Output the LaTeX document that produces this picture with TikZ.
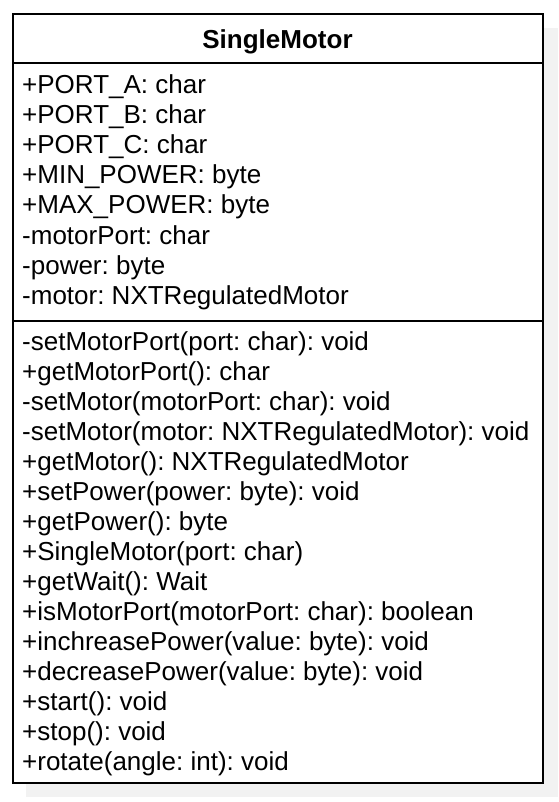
\documentclass[tikz,border=0pt]{standalone}
\usepackage{fontspec}
\setmainfont{Liberation Sans}
\frenchspacing
\begin{document}
\begin{tikzpicture}[x=1pt,y=-1pt,
  row/.style={anchor=base west,inner sep=0pt,font=\fontsize{26}{30}\selectfont},
  title/.style={anchor=base,inner sep=0pt,font=\fontsize{26}{30}\selectfont\bfseries},
  frame/.style={draw=black,line width=2pt}]
\useasboundingbox (0,0) rectangle (558,802);
\fill[black!5] (26,28) rectangle (558,797);
\draw[frame,fill=white] (12.5,14) rectangle (543,783);
\draw[frame] (12.5,63.5) -- (543,63.5);
\draw[frame] (12.5,320.5) -- (543,320.5);
\node[title] (t) at (277.5,49) {SingleMotor};
\foreach \n/\txt [count=\i from 0] in {a1/{+PORT\_A: char},a2/{+PORT\_B: char},a3/{+PORT\_C: char},a4/{+MIN\_POWER: byte},a5/{+MAX\_POWER: byte},a6/{-motorPort: char},a7/{-power: byte},a8/{-motor: NXTRegulatedMotor}}
  \node[row] (\n) at (22,94+30*\i) {\txt};
\foreach \n/\txt [count=\i from 0] in {m1/{-setMotorPort(port: char): void},m2/{+getMotorPort(): char},m3/{-setMotor(motorPort: char): void},m4/{-setMotor(motor: NXTRegulatedMotor): void},m5/{+getMotor(): NXTRegulatedMotor},m6/{+setPower(power: byte): void},m7/{+getPower(): byte},m8/{+SingleMotor(port: char)},m9/{+getWait(): Wait},m10/{+isMotorPort(motorPort: char): boolean},m11/{+inchreasePower(value: byte): void},m12/{+decreasePower(value: byte): void},m13/{+start(): void},m14/{+stop(): void},m15/{+rotate(angle: int): void}}
  \node[row] (\n) at (22,350+30*\i) {\txt};
\end{tikzpicture}
\end{document}
